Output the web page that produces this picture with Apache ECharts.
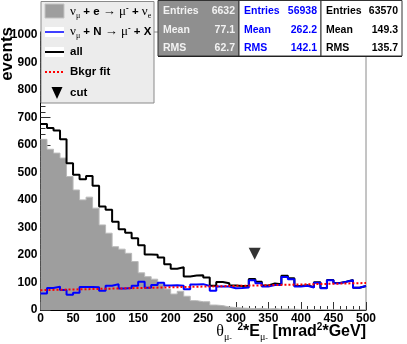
<!DOCTYPE html>
<html>
<head>
<meta charset="utf-8">
<script src="https://cdn.jsdelivr.net/npm/echarts@6/dist/echarts.min.js"></script>
<style>
  html, body { margin: 0; padding: 0; background: #fff; }
  #chart { width: 407px; height: 344px; }
</style>
</head>
<body>
<div id="chart"></div>
<script>
// histogram bins: lower edges, width 10
const binLow = [0, 10, 20, 30, 40, 50, 60, 70, 80, 90,
  100, 110, 120, 130, 140, 150, 160, 170, 180, 190,
  200, 210, 220, 230, 240, 250, 260, 270, 280, 290,
  300, 310, 320, 330, 340, 350, 360, 370, 380, 390,
  400, 410, 420, 430, 440, 450, 460, 470, 480, 490];
const binWidth = 10;

// nu_mu + e -> mu- + nu_e (grey fill)
const nuE = [620, 584, 570, 552, 485, 436, 400, 410, 370, 309,
  279, 230, 221, 206, 176, 135, 121, 112, 95, 76,
  58, 68, 50, 34, 30, 30, 18, 16, 11, 9,
  7, 6, 5, 6, 4, 5, 3, 4, 3, 2,
  2, 1, 2, 1, 1, 1, 0, 1, 0, 0];

// nu_mu + N -> mu- + X (blue)
const nuN = [60, 80, 85, 73, 55, 63, 84, 84, 83, 70,
  88, 94, 78, 80, 88, 103, 81, 91, 99, 89,
  90, 88, 75, 93, 94, 87, 70, 85, 85, 79,
  80, 82, 108, 97, 85, 91, 91, 120, 112, 85,
  88, 82, 99, 79, 108, 97, 103, 108, 81, 87];

// all (black)
const allEv = [676, 661, 652, 620, 533, 491, 475, 487, 451, 376,
  364, 321, 293, 281, 261, 235, 202, 201, 191, 166,
  150, 155, 122, 125, 126, 118, 88, 102, 97, 89,
  87, 88, 113, 103, 89, 96, 94, 124, 115, 87,
  90, 83, 101, 80, 109, 98, 103, 109, 81, 87];

// background fit (straight line)
const fitX = [0, 500];
const fitY = [72, 98];

// cut marker
const cutPoint = [329, 204];

// stat boxes
const statLabels = ['Entries', 'Mean', 'RMS'];
const statNuE = ['6632', '77.1', '62.7'];
const statNuN = ['56938', '262.2', '142.1'];
const statAll = ['63570', '149.3', '135.7'];

const SANS = '"Liberation Sans", Arial, Helvetica, sans-serif';
const SERIF = '"Liberation Serif", "Times New Roman", serif';

function steps(vals) {
  const d = binLow.map((x, i) => [x, vals[i]]);
  d.push([binLow[binLow.length - 1] + binWidth, vals[vals.length - 1]]);
  return d;
}

const legRich = {
  g: { fontFamily: SERIF, fontSize: 13, lineHeight: 16, color: '#000' },
  sub: { fontFamily: SERIF, fontSize: 8, lineHeight: 10, verticalAlign: 'bottom', color: '#000' },
  sup: { fontFamily: SANS, fontSize: 8, fontWeight: 'bold', lineHeight: 10, verticalAlign: 'top', color: '#000' },
  b: { fontFamily: SANS, fontWeight: 'bold', fontSize: 11.5, lineHeight: 16, color: '#000' }
};

function legText(y, text) {
  return {
    type: 'text', x: 70, y: y, z: 101,
    style: { text: text, rich: legRich, align: 'left', verticalAlign: 'middle' }
  };
}

const graphics = [
  // legend
  { type: 'rect', z: 100, shape: { x: 41, y: 1.5, width: 113, height: 101.5 },
    style: { fill: '#ececec', stroke: '#8a8a8a', lineWidth: 1 } },
  { type: 'rect', z: 101, shape: { x: 45, y: 4, width: 19, height: 14 },
    style: { fill: '#9e9e9e', stroke: '#c4c4c4', lineWidth: 1 } },
  legText(12, '{g|ν}{sub|μ}{b| + e }{g|→ μ}{sup|-}{b| + }{g|ν}{sub|e}'),
  { type: 'rect', z: 101, shape: { x: 45, y: 27, width: 19, height: 10 }, style: { fill: '#fff' } },
  { type: 'line', z: 102, shape: { x1: 45, y1: 32, x2: 64, y2: 32 }, style: { stroke: '#0000ff', lineWidth: 1.5 } },
  legText(32, '{g|ν}{sub|μ}{b| + N }{g|→ μ}{sup|-}{b| + X}'),
  { type: 'rect', z: 101, shape: { x: 45, y: 47, width: 19, height: 10 }, style: { fill: '#fff' } },
  { type: 'line', z: 102, shape: { x1: 45, y1: 52, x2: 64, y2: 52 }, style: { stroke: '#000', lineWidth: 2 } },
  legText(52, '{b|all}'),
  { type: 'line', z: 102, shape: { x1: 45, y1: 72, x2: 64, y2: 72 },
    style: { stroke: '#ff0000', lineWidth: 2, lineDash: [2, 2] } },
  legText(72, '{b|Bkgr fit}'),
  { type: 'polygon', z: 102, shape: { points: [[51.5, 87], [62.5, 87], [57, 99]] }, style: { fill: '#000' } },
  legText(93, '{b|cut}'),
  // axis titles
  { type: 'text', z: 50, x: 366, y: 332,
    style: {
      text: '{th|θ}{s|μ}{m|-}{sp|  2}{b|*E}{s|μ}{m|-}{b| [mrad}{sp|2}{b|*GeV]}',
      align: 'right', verticalAlign: 'middle',
      rich: {
        th: { fontFamily: SERIF, fontSize: 16, lineHeight: 20, color: '#000' },
        s: { fontFamily: SERIF, fontSize: 10, lineHeight: 12, verticalAlign: 'bottom', color: '#000' },
        m: { fontFamily: SANS, fontSize: 8, lineHeight: 17, verticalAlign: 'bottom', color: '#000' },
        sp: { fontFamily: SANS, fontWeight: 'bold', fontSize: 10, lineHeight: 12, verticalAlign: 'top', color: '#000' },
        b: { fontFamily: SANS, fontWeight: 'bold', fontSize: 16, lineHeight: 20, color: '#000' }
      }
    } },
  { type: 'text', z: 50, x: 7, y: 27, rotation: Math.PI / 2,
    style: { text: 'events', fontFamily: SANS, fontWeight: 'bold', fontSize: 17,
      fill: '#000', align: 'right', verticalAlign: 'middle' } }
];

// stat boxes
const boxes = [
  { x: 158, w: 81, fill: '#8f8f8f', color: '#f2f2f2', vals: statNuE },
  { x: 239, w: 82, fill: '#ffffff', color: '#0000ff', vals: statNuN },
  { x: 321, w: 81, fill: '#ffffff', color: '#000000', vals: statAll }
];
const rowY = [11, 30, 48];
boxes.forEach(b => {
  graphics.push({ type: 'rect', z: 100, shape: { x: b.x, y: 0.5, width: b.w, height: 55.5 },
    style: { fill: b.fill, stroke: '#333', lineWidth: 1 } });
  statLabels.forEach((lab, i) => {
    graphics.push({ type: 'text', z: 101, x: b.x + 5, y: rowY[i],
      style: { text: lab, fontFamily: SANS, fontWeight: 'bold', fontSize: 10.5, fill: b.color,
        align: 'left', verticalAlign: 'middle' } });
    graphics.push({ type: 'text', z: 101, x: b.x + b.w - 4, y: rowY[i],
      style: { text: b.vals[i], fontFamily: SANS, fontWeight: 'bold', fontSize: 10.5, fill: b.color,
        align: 'right', verticalAlign: 'middle' } });
  });
});
graphics.push({ type: 'line', z: 100, shape: { x1: 158, y1: 56.5, x2: 402, y2: 56.5 },
  style: { stroke: '#222', lineWidth: 1 } });

const chart = echarts.init(document.getElementById('chart'));
chart.setOption({
  animation: false,
  backgroundColor: '#fff',
  grid: { left: 40.5, right: 41, top: 32, bottom: 34, show: true, borderColor: '#8a8a8a', borderWidth: 1 },
  xAxis: {
    type: 'value', min: 0, max: 500, interval: 50,
    axisLine: { onZero: false, lineStyle: { color: '#000', width: 1 } },
    axisTick: { inside: true, length: 8, lineStyle: { color: '#333' } },
    minorTick: { show: true, splitNumber: 5, length: 4, lineStyle: { color: '#333' } },
    splitLine: { show: false },
    axisLabel: { margin: 3, color: '#000', fontFamily: SANS, fontWeight: 'bold', fontSize: 12 }
  },
  yAxis: {
    type: 'value', min: 0, max: 1010, interval: 100,
    axisLine: { show: true, lineStyle: { color: '#000', width: 1 } },
    axisTick: { show: true, inside: true, length: 10, lineStyle: { color: '#333' } },
    minorTick: { show: true, splitNumber: 5, length: 5, lineStyle: { color: '#333' } },
    splitLine: { show: false },
    axisLabel: { margin: 3, color: '#000', fontFamily: SANS, fontWeight: 'bold', fontSize: 12,
      formatter: v => (v % 100 === 0 ? String(v) : '') }
  },
  series: [
    { name: 'nuE', type: 'line', step: 'end', data: steps(nuE), symbol: 'none', z: 2,
      lineStyle: { color: '#b9b9b9', width: 1 },
      areaStyle: { color: '#9e9e9e', opacity: 1 } },
    { name: 'all', type: 'line', step: 'end', data: steps(allEv), symbol: 'none', z: 3,
      lineStyle: { color: '#000', width: 2 } },
    { name: 'nuN', type: 'line', step: 'end', data: steps(nuN), symbol: 'none', z: 4,
      lineStyle: { color: '#0000ff', width: 2 } },
    { name: 'fit', type: 'line', data: fitX.map((x, i) => [x, fitY[i]]), symbol: 'none', z: 5,
      lineStyle: { color: '#ff0000', width: 2, type: [2, 2] } },
    { name: 'cut', type: 'scatter', data: [cutPoint], symbol: 'triangle', symbolRotate: 180,
      symbolSize: [12, 12], itemStyle: { color: '#000' }, z: 6 }
  ],
  graphic: graphics
});
</script>
</body>
</html>
